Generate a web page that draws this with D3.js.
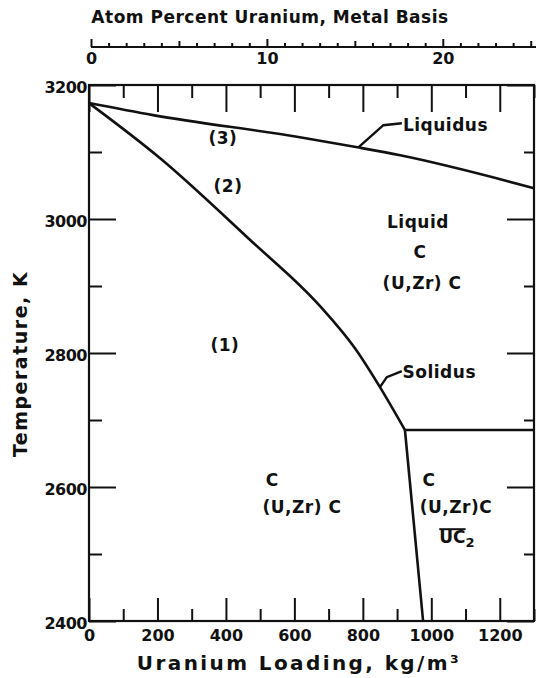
<!DOCTYPE html>
<html>
<head>
<meta charset="utf-8">
<script src="https://cdn.jsdelivr.net/npm/d3@7"></script>
<style>
  body { margin: 0; background: #fff; }
  text { font-family: "DejaVu Sans", sans-serif; font-weight: bold; fill: #111; }
  .axis path, .axis line { stroke: #111; stroke-width: 2; }
</style>
</head>
<body>
<svg id="chart" width="537" height="678"></svg>
<script>
// readings from the picture: [uranium loading kg/m3, temperature K]
const liquidus = [[0,3173],[187,3155],[616,3122],[784,3107],[909,3095],[1300,3046]];
const solidus = [[0,3173],[207,3091],[470,2969],[675,2870],[777,2807],[850,2749],[923,2685]];
const ucBoundary = [[923,2685],[976,2400]];
const threePhase = [[923,2685],[1300,2685]];

const xMajor = [0,200,400,600,800,1000,1200];
const xMinor = [100,300,500,700,900,1100,1300];
const yMajor = [2400,2600,2800,3000,3200];
const yMinor = [2500,2700,2900,3100];
const atomLabels = [0,10,20];
const atomMid = [5,15,25];
const atomMinor = [1,2,3,4,6,7,8,9,11,12,13,14,16,17,18,19,21,22,23,24];

// region labels: text, x, y
const labels = [
  {t:"(3)", x:391, y:3121},
  {t:"(2)", x:406, y:3049},
  {t:"(1)", x:397, y:2812},
  {t:"Liquid", x:961, y:2996},
  {t:"C", x:967, y:2951},
  {t:"(U,Zr) C", x:973, y:2904},
  {t:"C", x:535, y:2610},
  {t:"(U,Zr) C", x:622, y:2570},
  {t:"C", x:993, y:2610},
  {t:"(U,Zr)C", x:1072, y:2570}
];
const liqLeader = [[787,3107],[860,3140],[914,3143]];
const solLeader = [[850,2749],[870,2764],[914,2773]];

const svg = d3.select("#chart");
const x = d3.scaleLinear().domain([0,1300]).range([89,534]);
const y = d3.scaleLinear().domain([2400,3200]).range([621,85]);
const xa = d3.scaleLinear().domain([0,25.3]).range([91,536]);
const fmt = d3.format("d");

// frame
svg.append("rect")
  .attr("x",x(0)).attr("y",y(3200))
  .attr("width",x(1300)-x(0)).attr("height",y(2400)-y(3200))
  .attr("fill","none").attr("stroke","#111").attr("stroke-width",2.2);

function ticks(axis, tr){
  const g = svg.append("g").attr("class","axis").attr("transform",tr).call(axis);
  g.select(".domain").remove();
  return g;
}
const trBot = "translate(0,"+y(2400)+")", trTop = "translate(0,"+y(3200)+")";
const trLeft = "translate("+x(0)+",0)", trRight = "translate("+x(1300)+",0)";

let g = ticks(d3.axisBottom(x).tickValues(xMajor).tickFormat(fmt).tickSize(-23).tickPadding(8), trBot);
g.selectAll("text").attr("font-size",16).attr("dy","0.75em");
ticks(d3.axisBottom(x).tickValues(xMinor).tickSize(-12).tickFormat(""), trBot);
ticks(d3.axisTop(x).tickValues(xMajor).tickSize(-27).tickFormat(""), trTop);
ticks(d3.axisTop(x).tickValues(xMinor).tickSize(-13).tickFormat(""), trTop);

g = ticks(d3.axisLeft(y).tickValues(yMajor).tickFormat(fmt).tickSize(-27).tickPadding(2), trLeft);
g.selectAll("text").attr("font-size",16).attr("letter-spacing","-0.5px").attr("dy","0.45em");
ticks(d3.axisLeft(y).tickValues(yMinor).tickSize(-13).tickFormat(""), trLeft);
ticks(d3.axisRight(y).tickValues(yMajor).tickSize(-27).tickFormat(""), trRight);
ticks(d3.axisRight(y).tickValues(yMinor).tickSize(-10).tickFormat(""), trRight);

// atom percent axis on top
const ay = 47;
const ag = svg.append("g").attr("class","axis").attr("transform","translate(0,"+ay+")")
  .call(d3.axisBottom(xa).tickValues(atomLabels).tickSize(-8).tickSizeOuter(0).tickPadding(5));
ag.select(".domain").attr("d","M"+xa(0)+",0H536");
ag.selectAll("text").attr("font-size",16).attr("dy","0.75em");
ticks(d3.axisBottom(xa).tickValues(atomMid).tickSize(-6).tickFormat(""), "translate(0,"+ay+")");
ticks(d3.axisBottom(xa).tickValues(atomMinor).tickSize(-4).tickFormat(""), "translate(0,"+ay+")");

// curves
const smooth = d3.line().x(d=>x(d[0])).y(d=>y(d[1])).curve(d3.curveMonotoneX);
const line = d3.line().x(d=>x(d[0])).y(d=>y(d[1]));
[liquidus, solidus].forEach(d=>{
  svg.append("path").attr("d",smooth(d)).attr("fill","none")
    .attr("stroke","#111").attr("stroke-width",2.6);
});
[ucBoundary, threePhase].forEach(d=>{
  svg.append("path").attr("d",line(d)).attr("fill","none")
    .attr("stroke","#111").attr("stroke-width",2.6);
});
[liqLeader, solLeader].forEach(d=>{
  svg.append("path").attr("d",line(d)).attr("fill","none")
    .attr("stroke","#111").attr("stroke-width",2.4);
});

svg.append("text").attr("x",x(917)).attr("y",y(3140)).attr("dy","0.35em")
  .attr("font-size",17).attr("letter-spacing","0.5px").text("Liquidus");
svg.append("text").attr("x",x(916)).attr("y",y(2772)).attr("dy","0.35em")
  .attr("font-size",17).attr("letter-spacing","0.5px").text("Solidus");

svg.selectAll(".lbl").data(labels).join("text").attr("class","lbl")
  .attr("x",d=>x(d.x)).attr("y",d=>y(d.y)).attr("dy","0.35em")
  .attr("text-anchor","middle").attr("font-size",17).attr("letter-spacing","0.5px")
  .text(d=>d.t);

// UC2 with bar
const uc = svg.append("text").attr("x",x(1075)).attr("y",y(2525)).attr("dy","0.35em")
  .attr("text-anchor","middle").attr("font-size",17);
uc.append("tspan").text("UC");
uc.append("tspan").attr("font-size",13).attr("dy",4).text("2");
const bb = uc.node().getBBox();
const ucw = uc.node().getSubStringLength(0,2);
svg.append("line").attr("x1",bb.x).attr("x2",bb.x+ucw)
  .attr("y1",bb.y+2).attr("y2",bb.y+2).attr("stroke","#111").attr("stroke-width",2);

// axis titles
svg.append("text").attr("x",270).attr("y",17).attr("dy","0.35em").attr("text-anchor","middle")
  .attr("font-size",17).attr("letter-spacing","0.5px").text("Atom Percent Uranium, Metal Basis");
svg.append("text").attr("x",299).attr("y",663).attr("dy","0.35em").attr("text-anchor","middle")
  .attr("font-size",20).attr("letter-spacing","2.4px").text("Uranium Loading, kg/m³");
svg.append("text").attr("transform","translate(20,364) rotate(-90)").attr("dy","0.35em")
  .attr("text-anchor","middle").attr("font-size",19).attr("letter-spacing","1.5px")
  .text("Temperature, K");
</script>
</body>
</html>
